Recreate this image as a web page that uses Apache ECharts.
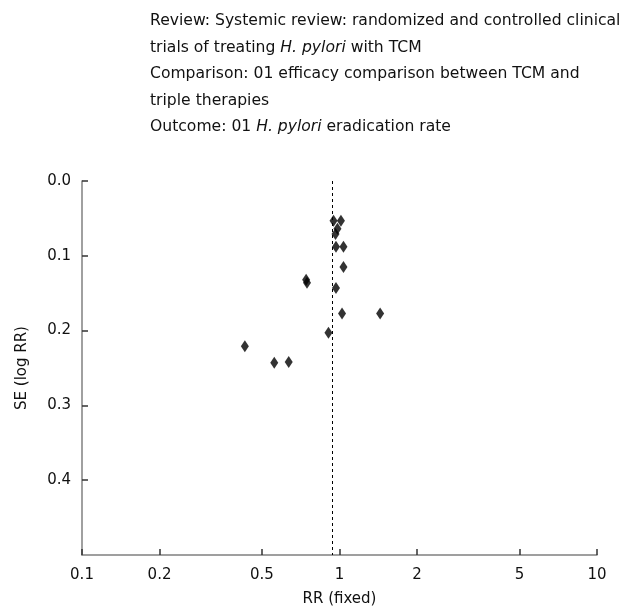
<!DOCTYPE html>
<html>
<head>
<meta charset="utf-8">
<script src="https://cdn.jsdelivr.net/npm/echarts@6/dist/echarts.min.js"></script>
<style>html,body{margin:0;padding:0;background:#fff}#c{width:625px;height:612px}</style>
</head>
<body>
<div id="c"></div>
<script>
// Relative risk (RR) of each trial
const rrValues = [0.948, 1.013, 0.982, 0.965, 0.969, 1.036, 1.036, 0.969, 0.742, 0.748, 1.023, 1.438, 0.906, 0.429, 0.558, 0.635];
// Standard error of log RR for each trial
const seValues = [0.053, 0.053, 0.064, 0.071, 0.088, 0.088, 0.115, 0.143, 0.132, 0.136, 0.177, 0.177, 0.203, 0.221, 0.243, 0.242];
const pooledRR = 0.939;
const xTickLabels = [0.1, 0.2, 0.5, 1, 2, 5, 10];
const yTickLabels = [0, 0.1, 0.2, 0.3, 0.4];

const FONT = 'DejaVu Sans';
const TFS = 15.6;
const FS = 15;
const points = rrValues.map((v, i) => [v, seValues[i]]);

const chart = echarts.init(document.getElementById('c'), null, {renderer: 'canvas'});
chart.setOption({
  animation: false,
  backgroundColor: '#fff',
  title: {
    left: 145,
    top: 3,
    text: 'Review: Systemic review: randomized and controlled clinical\ntrials of treating {i|H. pylori} with TCM\nComparison: 01 efficacy comparison between TCM and\ntriple therapies\nOutcome: 01 {i|H. pylori} eradication rate',
    textStyle: {
      fontFamily: FONT, fontSize: TFS, fontWeight: 'normal', color: '#111', lineHeight: 26.5,
      rich: { i: { fontFamily: FONT, fontSize: TFS, fontStyle: 'italic', color: '#111', lineHeight: 26.5 } }
    }
  },
  grid: { left: 82, right: 28, top: 181, bottom: 55 },
  xAxis: {
    type: 'log', logBase: 10, min: 0.1, max: 10, position: 'bottom',
    name: 'RR (fixed)', nameLocation: 'middle', nameGap: 37,
    nameTextStyle: { fontFamily: FONT, fontSize: FS, color: '#111' },
    axisLine: { onZero: false, lineStyle: { color: '#808080', width: 1.5 } },
    axisTick: { inside: true, length: 6, customValues: xTickLabels, lineStyle: { color: '#333', width: 1.5 } },
    axisLabel: { customValues: xTickLabels, margin: 13, fontFamily: FONT, fontSize: FS, color: '#111',
      formatter: v => String(+v.toPrecision(3)) },
    splitLine: { show: false }
  },
  yAxis: {
    type: 'value', inverse: true, min: 0, max: 0.5,
    name: 'SE (log RR)', nameLocation: 'middle', nameGap: 52, nameRotate: 90,
    nameTextStyle: { fontFamily: FONT, fontSize: FS, color: '#111' },
    axisLine: { show: true, onZero: false, lineStyle: { color: '#808080', width: 1.5 } },
    axisTick: { inside: true, length: 6, customValues: yTickLabels, lineStyle: { color: '#333', width: 1.5 } },
    axisLabel: { customValues: yTickLabels, margin: 11, fontFamily: FONT, fontSize: FS, color: '#111',
      formatter: v => v.toFixed(1) },
    splitLine: { show: false }
  },
  series: [{
    type: 'scatter',
    data: points,
    symbol: 'diamond',
    symbolSize: [8, 12],
    itemStyle: { color: '#000' },
    markLine: {
      silent: true,
      symbol: ['none', 'none'],
      label: { show: false },
      lineStyle: { color: '#000', type: [3, 3], width: 1 },
      data: [{ xAxis: pooledRR }]
    }
  }]
});
</script>
</body>
</html>
